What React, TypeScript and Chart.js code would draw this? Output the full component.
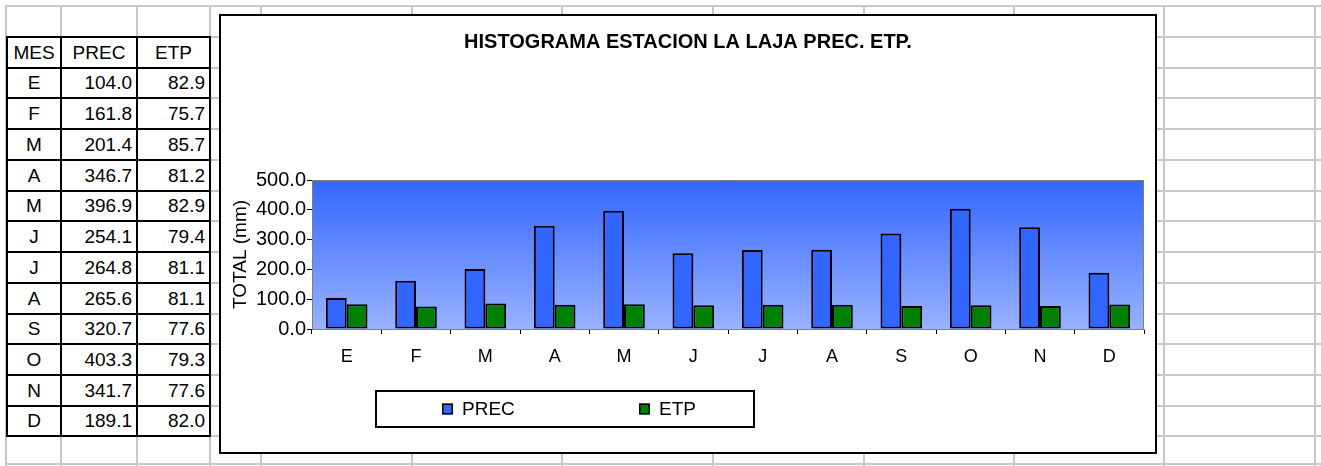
import React, { useEffect, useRef } from "react";
import { Chart, registerables } from "chart.js";

Chart.register(...registerables);

// ---- data ----
const MONTHS = ["E", "F", "M", "A", "M", "J", "J", "A", "S", "O", "N", "D"];
const PREC = [104.0, 161.8, 201.4, 346.7, 396.9, 254.1, 264.8, 265.6, 320.7, 403.3, 341.7, 189.1];
const ETP = [82.9, 75.7, 85.7, 81.2, 82.9, 79.4, 81.1, 81.1, 77.6, 79.3, 77.6, 82.0];
const Y_TICKS = [0, 100, 200, 300, 400, 500];
const HEADERS = ["MES", "PREC", "ETP"];
const SERIES_LABELS = ["PREC", "ETP"];
const TITLE = "HISTOGRAMA ESTACION LA LAJA PREC. ETP.";
const Y_TITLE = "TOTAL (mm)";

// ---- layout of the spreadsheet background ----
const COL_LINES = [6, 61, 137, 210, 261, 412, 562, 713, 864, 1014, 1164, 1315];
const ROW_LINES = [6, 37, 68, 98, 129, 160, 191, 221, 252, 283, 314, 344, 375, 406, 436, 464];
const TABLE_COLS = [7, 61, 137, 210];

const FONT = '"Liberation Sans", Arial, Helvetica, sans-serif';
const GRID = "#c8c8c8";
const PREC_COLOR = "#3366FF";
const ETP_COLOR = "#008000";

const gradientPlugin = {
  id: "plotGradient",
  beforeDraw(chart: any) {
    const { ctx, chartArea } = chart;
    if (!chartArea) return;
    const g = ctx.createLinearGradient(0, chartArea.top, 0, chartArea.bottom);
    g.addColorStop(0, "rgb(51,102,255)");
    g.addColorStop(1, "rgb(153,178,255)");
    ctx.save();
    ctx.fillStyle = g;
    ctx.fillRect(chartArea.left, chartArea.top, chartArea.right - chartArea.left, chartArea.bottom - chartArea.top);
    ctx.restore();
  },
  afterDatasetsDraw(chart: any) {
    const { ctx, chartArea } = chart;
    ctx.save();
    ctx.strokeStyle = "#808080";
    ctx.lineWidth = 1;
    ctx.beginPath();
    ctx.moveTo(chartArea.left, chartArea.top + 0.5);
    ctx.lineTo(chartArea.right - 0.5, chartArea.top + 0.5);
    ctx.lineTo(chartArea.right - 0.5, chartArea.bottom);
    ctx.stroke();
    ctx.restore();
  },
};

const boxedLegendPlugin = {
  id: "boxedLegend",
  afterDraw(chart: any, _args: any, opts: any) {
    const { ctx, chartArea } = chart;
    const x = chartArea.left + opts.dx;
    const y = chartArea.bottom + opts.dy;
    ctx.save();
    ctx.fillStyle = "#fff";
    ctx.fillRect(x, y, opts.width, opts.height);
    ctx.strokeStyle = "#000";
    ctx.lineWidth = 2;
    ctx.strokeRect(x, y, opts.width, opts.height);
    ctx.font = `${opts.fontSize}px ${FONT}`;
    ctx.textBaseline = "middle";
    ctx.textAlign = "left";
    chart.data.datasets.forEach((ds: any, i: number) => {
      const ix = x + opts.offsets[i];
      const my = y + opts.height / 2 - 5.5;
      ctx.fillStyle = ds.backgroundColor;
      ctx.fillRect(ix, my, 11, 11);
      ctx.strokeStyle = "#000";
      ctx.lineWidth = 1.5;
      ctx.strokeRect(ix + 0.75, my + 0.75, 9.5, 9.5);
      ctx.fillStyle = "#000";
      ctx.fillText(ds.label, ix + 20, y + opts.height / 2 + 1);
    });
    ctx.restore();
  },
};

function ChartBox() {
  const ref = useRef<HTMLCanvasElement | null>(null);
  useEffect(() => {
    if (!ref.current) return;
    const chart = new Chart(ref.current, {
      type: "bar",
      data: {
        labels: MONTHS,
        datasets: [
          {
            label: SERIES_LABELS[0],
            data: PREC,
            backgroundColor: PREC_COLOR,
            borderColor: "#000",
            borderWidth: 2,
            borderSkipped: false,
            categoryPercentage: 0.6,
            barPercentage: 1,
          },
          {
            label: SERIES_LABELS[1],
            data: ETP,
            backgroundColor: ETP_COLOR,
            borderColor: "#000",
            borderWidth: 2,
            borderSkipped: false,
            categoryPercentage: 0.6,
            barPercentage: 1,
          },
        ],
      },
      options: {
        responsive: false,
        animation: false,
        color: "#000",
        layout: { padding: { left: 0, right: 0, top: 0, bottom: 78 } },
        plugins: {
          legend: { display: false },
          tooltip: { enabled: false },
          title: {
            display: true,
            text: TITLE,
            color: "#000",
            font: { family: FONT, size: 20, weight: "bold" },
            padding: { top: 14, bottom: 126 },
          },
          boxedLegend: { dx: 64, dy: 62, width: 378, height: 36, offsets: [66, 263], fontSize: 19 },
        } as any,
        scales: {
          x: {
            grid: { offset: true, drawOnChartArea: false, tickLength: 5, color: "#000", lineWidth: 1 },
            border: { color: "#808080", width: 1 },
            ticks: { color: "#000", font: { family: FONT, size: 18 }, padding: 12 },
            afterFit: (s: any) => {
              s.height = 45;
            },
          },
          y: {
            min: 0,
            max: 500,
            afterBuildTicks: (s: any) => {
              s.ticks = Y_TICKS.map((v) => ({ value: v }));
            },
            ticks: {
              color: "#000",
              font: { family: FONT, size: 20 },
              padding: 1,
              callback: (v: any) => Number(v).toFixed(1),
            },
            grid: { drawOnChartArea: false, tickLength: 5, color: "#000", lineWidth: 1 },
            border: { color: "#808080", width: 1 },
            title: {
              display: true,
              text: Y_TITLE,
              color: "#000",
              font: { family: FONT, size: 19 },
              padding: { top: 8, bottom: 0 },
            },
            afterFit: (s: any) => {
              s.width = 91;
            },
          },
          yRight: {
            position: "right",
            display: true,
            grid: { display: false },
            border: { display: false },
            ticks: { display: false },
            afterFit: (s: any) => {
              s.width = 11;
            },
          },
        } as any,
      },
      plugins: [gradientPlugin, boxedLegendPlugin],
    });
    return () => chart.destroy();
  }, []);
  return <canvas ref={ref} width={934} height={436} style={{ display: "block", width: 934, height: 436 }} />;
}

export default function App() {
  const lines: React.ReactNode[] = [];
  COL_LINES.forEach((x, i) =>
    lines.push(
      <div key={"v" + i} style={{ position: "absolute", left: x - 1, top: 5, width: 2, height: 461, background: GRID }} />
    )
  );
  ROW_LINES.forEach((y, i) =>
    lines.push(
      <div key={"h" + i} style={{ position: "absolute", left: 5, top: y - 1, width: 1316, height: 2, background: GRID }} />
    )
  );

  const tableTop = ROW_LINES[1];
  const tableBottom = ROW_LINES[14];
  const black: React.ReactNode[] = [];
  TABLE_COLS.forEach((x, i) =>
    black.push(
      <div key={"tv" + i} style={{ position: "absolute", left: x - 1, top: tableTop - 1, width: 2, height: tableBottom - tableTop + 2, background: "#000" }} />
    )
  );
  for (let r = 1; r <= 14; r++) {
    black.push(
      <div key={"th" + r} style={{ position: "absolute", left: TABLE_COLS[0] - 1, top: ROW_LINES[r] - 1, width: TABLE_COLS[3] - TABLE_COLS[0] + 2, height: 2, background: "#000" }} />
    );
  }

  const cells: React.ReactNode[] = [];
  const cell = (key: string, text: string, col: number, row: number, align: "center" | "right") => (
    <div
      key={key}
      style={{
        position: "absolute",
        left: TABLE_COLS[col] + 1,
        width: TABLE_COLS[col + 1] - TABLE_COLS[col] - 2,
        top: ROW_LINES[row] + 1,
        height: ROW_LINES[row + 1] - ROW_LINES[row] - 2,
        display: "flex",
        alignItems: "center",
        justifyContent: align === "center" ? "center" : "flex-end",
        paddingRight: align === "right" ? 4 : 0,
        boxSizing: "border-box",
        fontFamily: FONT,
        fontSize: 19,
        color: "#000",
        whiteSpace: "nowrap",
      }}
    >
      {text}
    </div>
  );
  HEADERS.forEach((h, c) => cells.push(cell("hd" + c, h, c, 1, "center")));
  MONTHS.forEach((m, i) => {
    cells.push(cell("m" + i, m, 0, 2 + i, "center"));
    cells.push(cell("p" + i, PREC[i].toFixed(1), 1, 2 + i, "right"));
    cells.push(cell("e" + i, ETP[i].toFixed(1), 2, 2 + i, "right"));
  });

  return (
    <div style={{ position: "fixed", left: 0, top: 0, width: 1321, height: 466, background: "#fff", overflow: "hidden" }}>
      {lines}
      {black}
      {cells}
      <div
        style={{
          position: "absolute",
          left: 219,
          top: 14,
          width: 938,
          height: 440,
          border: "2px solid #000",
          boxSizing: "border-box",
          background: "#fff",
        }}
      >
        <ChartBox />
      </div>
    </div>
  );
}
